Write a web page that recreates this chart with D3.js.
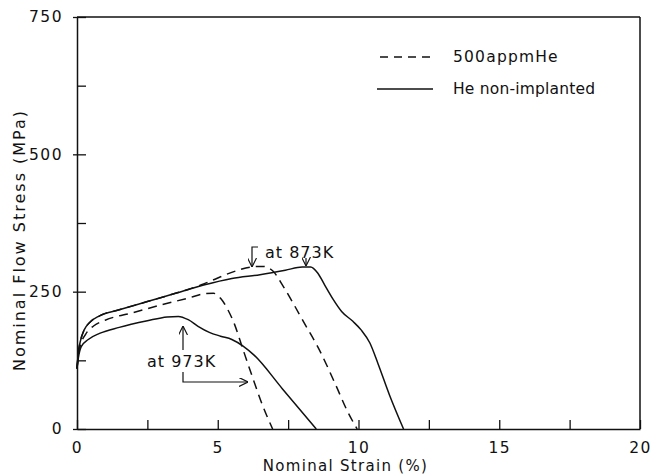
<!DOCTYPE html>
<html><head><meta charset="utf-8">
<script src="https://cdn.jsdelivr.net/npm/d3@7/dist/d3.min.js"></script>
<style>
html,body{margin:0;padding:0;background:#fff;}
svg{display:block;font-family:"DejaVu Sans",sans-serif;}
</style></head>
<body>
<svg id="chart" width="651" height="475"></svg>
<script>
// ---- data (strain %, stress MPa) ----
const strain873Non = [0,0.05,0.12,0.25,0.45,0.8,1.5,2.5,3.5,4.5,5.5,6.5,7.4,8.0,8.3,8.55,8.8,9.1,9.4,9.8,10.1,10.4,10.7,11.1,11.6];
const stress873Non = [110,140,160,180,194,206,217,232,247,262,274,281,289,295,295,284,262,236,214,196,180,157,118,62,0];

const strain873He = [0,0.05,0.12,0.25,0.45,0.8,1.5,2.5,3.5,4.0,4.5,5.0,5.6,6.2,6.6,6.95,7.3,7.6,8.05,8.6,9.2,9.6,9.95];
const stress873He = [110,140,160,180,194,206,217,232,247,255,264,275,287,295,296,288,262,236,195,145,79,33,0];

const strain973Non = [0,0.05,0.15,0.4,0.8,1.5,2.5,3.2,3.6,3.95,4.3,4.7,5.1,5.5,5.9,6.3,7.3,8.5];
const stress973Non = [110,130,150,163,174,185,197,204,205,199,187,176,169,163,151,134,73,0];

const strain973He = [0,0.05,0.12,0.3,0.6,1.0,2.0,3.0,4.0,4.5,4.85,5.1,5.35,5.6,5.85,6.25,6.6,6.95];
const stress973He = [110,135,152,172,188,198,212,226,239,246,247,238,218,190,152,92,42,0];

const xTicks = [0,2.5,5,7.5,10,12.5,15,17.5,20];
const xLabels = ["0","","5","","10","","15","","20"];
const yTicks = [0,125,250,375,500,625,750];
const yLabels = ["0","","250","","500","","750"];

const legendNames = ["500appmHe","He non-implanted"];

// ---- drawing ----
const svg = d3.select("#chart");
const L = 77, R = 640, T = 17, B = 429;
const x = d3.scaleLinear().domain([0,20]).range([L,R]);
const y = d3.scaleLinear().domain([0,750]).range([B,T]);
const ink = "#111";

const line = d3.line().x(d=>x(d[0])).y(d=>y(d[1])).curve(d3.curveMonotoneX);
const zip = (a,b)=>a.map((v,i)=>[v,b[i]]);

const series = [
  {xs:strain873Non, ys:stress873Non, dash:null},
  {xs:strain873He, ys:stress873He, dash:"9,6"},
  {xs:strain973Non, ys:stress973Non, dash:null},
  {xs:strain973He, ys:stress973He, dash:"9,6"}
];
series.forEach(s=>{
  svg.append("path").attr("d", line(zip(s.xs,s.ys)))
    .attr("fill","none").attr("stroke",ink).attr("stroke-width",1.5)
    .attr("stroke-dasharray", s.dash);
});

// axes
const xAxis = d3.axisBottom(x).tickValues(xTicks).tickSizeInner(-9).tickSizeOuter(0)
  .tickPadding(13).tickFormat((d,i)=>xLabels[i]);
const gx = svg.append("g").attr("transform",`translate(0,${B})`).call(xAxis);
const yAxis = d3.axisLeft(y).tickValues(yTicks).tickSizeInner(-9).tickSizeOuter(0)
  .tickPadding(14).tickFormat((d,i)=>yLabels[i]);
const gy = svg.append("g").attr("transform",`translate(${L},0)`).call(yAxis);
[gx,gy].forEach(g=>{
  g.select(".domain").attr("stroke",ink).attr("stroke-width",1.5);
  g.selectAll(".tick line").attr("stroke",ink).attr("stroke-width",1.3);
  g.selectAll(".tick text").attr("fill",ink).style("font-family","DejaVu Sans")
    .style("font-size","15.5px").style("letter-spacing","1.5px");
});
// labeled y ticks cross the axis slightly
gy.selectAll(".tick").filter((d,i)=>yLabels[i]!=="").append("line")
  .attr("x1",-4).attr("x2",0).attr("stroke",ink).attr("stroke-width",1.3);
// top and right frame
svg.append("line").attr("x1",L).attr("x2",R).attr("y1",T).attr("y2",T).attr("stroke",ink).attr("stroke-width",1.3);
svg.append("line").attr("x1",R).attr("x2",R).attr("y1",T).attr("y2",B).attr("stroke",ink).attr("stroke-width",1.5);

// axis titles
svg.append("text").attr("x",(262+429)/2).attr("y",471).attr("text-anchor","middle")
  .attr("fill",ink).style("font-size","15px").style("letter-spacing","1.3px").text("Nominal Strain (%)");
svg.append("text").attr("transform","translate(25,240) rotate(-90)").attr("text-anchor","middle")
  .attr("fill",ink).style("font-size","16px").style("letter-spacing","2px").text("Nominal Flow Stress (MPa)");

// legend
const lg = svg.append("g");
lg.append("line").attr("x1",380).attr("x2",431).attr("y1",57).attr("y2",57)
  .attr("stroke",ink).attr("stroke-width",1.4).attr("stroke-dasharray","8,6");
lg.append("line").attr("x1",377).attr("x2",433).attr("y1",89).attr("y2",89)
  .attr("stroke",ink).attr("stroke-width",1.4);
lg.append("text").attr("x",453).attr("y",62).attr("fill",ink).style("font-size","15.5px")
  .style("letter-spacing","1.2px").text(legendNames[0]);
lg.append("text").attr("x",453).attr("y",94).attr("fill",ink).style("font-size","15.5px")
  .style("letter-spacing","0.2px").text(legendNames[1]);

// annotations
const defs = svg.append("defs");
defs.append("marker").attr("id","ah").attr("viewBox","0 0 10 10").attr("refX",10).attr("refY",5)
  .attr("markerWidth",9).attr("markerHeight",9).attr("orient","auto").attr("markerUnits","userSpaceOnUse")
  .append("path").attr("d","M0,0 L10,5 L0,10").attr("fill","none").attr("stroke",ink).attr("stroke-width",1.3);
const arrow = (pts)=>svg.append("path").attr("d","M"+pts.map(p=>p.join(",")).join("L"))
  .attr("fill","none").attr("stroke",ink).attr("stroke-width",1.2).attr("marker-end","url(#ah)");

arrow([[258,247],[252,247],[252,267]]);
arrow([[306,258],[306,266]]);
svg.append("text").attr("x",265).attr("y",258).attr("fill",ink).style("font-size","16px")
  .style("letter-spacing","1px").text("at 873K");

arrow([[183,350],[183,326]]);
arrow([[183,372],[183,382],[248,382]]);
svg.append("text").attr("x",147).attr("y",367).attr("fill",ink).style("font-size","16px")
  .style("letter-spacing","1px").text("at 973K");
</script>
</body></html>
